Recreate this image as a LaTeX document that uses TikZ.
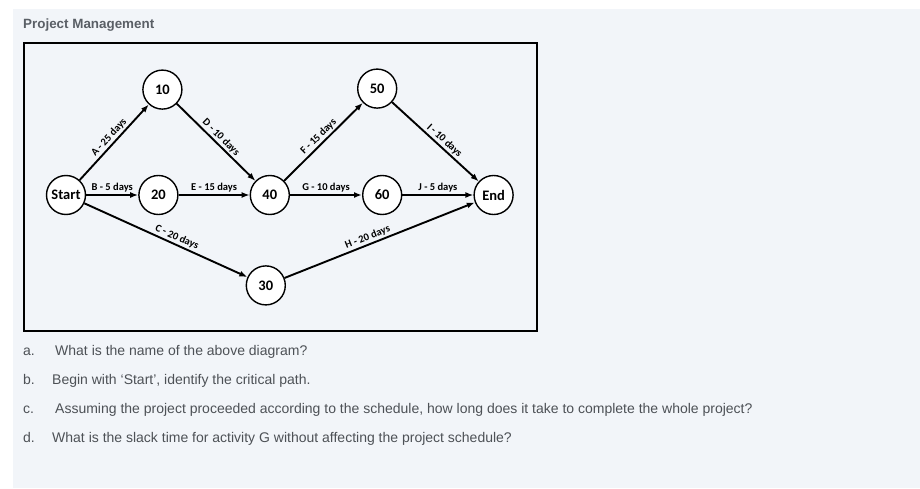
\documentclass[tikz,border=0pt]{standalone}
\usepackage{fontspec}
\setmainfont{Liberation Sans}
\newfontfamily\calib{Carlito}
\usetikzlibrary{arrows.meta, positioning}
\definecolor{panel}{HTML}{F2F5F9}
\definecolor{inkgray}{HTML}{4D5156}
\definecolor{titlegray}{HTML}{5A5F66}

\begin{document}
\begin{tikzpicture}[
      x=1pt, y=-1pt,
      evt/.style={circle, draw, line width=1.4pt, fill=white,
                  minimum size=39pt, inner sep=0pt,
                  font=\calib\bfseries\fontsize{14.5}{14.5}\selectfont},
      act/.style={-{Latex[length=8pt,width=6pt]}, line width=1.9pt},
      lbl/.style={font=\calib\bfseries\fontsize{10.5}{10.5}\selectfont, inner sep=1.5pt},
      qtxt/.style={anchor=base west, inner sep=0pt, text=inkgray,
                   font=\fontsize{14}{14}\selectfont}
    ]
    \useasboundingbox (0,0) rectangle (920,489);
    \fill[white] (0,0) rectangle (920,489);
    \fill[panel] (13,9) rectangle (920,488);

    % Title
    \node[anchor=base west, inner sep=0pt, text=titlegray,
          font=\bfseries\fontsize{13.4}{14}\selectfont] (title) at (23,29) {Project Management};

    % Frame
    \draw[line width=2pt] (24,43) rectangle (537,331);

    % Events, middle row
    \node[evt] (start) at (66,195) {Start};
    \node[evt, right=52pt of start] (n20) {20};
    \node[evt, right=71pt of n20] (n40) {40};
    \node[evt, right=72pt of n40] (n60) {60};
    \node[evt, right=71pt of n60] (end) {End};

    % Events, upper and lower
    \node[evt, above=65pt of n20, xshift=4pt] (n10) {10};
    \node[evt, below=50pt of n40, xshift=-4pt] (n30) {30};
    \node[evt, above=66pt of n60, xshift=-5pt] (n50) {50};

    % Activities
    \draw[act] (start) -- node[lbl, sloped, above] {A - 25 days} (n10);
    \draw[act] (start) -- node[lbl, above] {B - 5 days} (n20);
    \draw[act] (start) -- node[lbl, sloped, above, pos=0.55] {C - 20 days} (n30);
    \draw[act] (n10) -- node[lbl, sloped, above] {D - 10 days} (n40);
    \draw[act] (n20) -- node[lbl, above] {E - 15 days} (n40);
    \draw[act] (n40) -- node[lbl, sloped, above] {F - 15 days} (n50);
    \draw[act] (n40) -- node[lbl, above] {G - 10 days} (n60);
    \draw[act] (n30) -- node[lbl, sloped, above, pos=0.45] {H - 20 days} (end);
    \draw[act] (n50) -- node[lbl, sloped, above, pos=0.55] {I - 10 days} (end);
    \draw[act] (n60) -- node[lbl, above] {J - 5 days} (end);

    % Questions
    \node[qtxt] (qa) at (23,355) {a.};
    \node[qtxt] (qatext) at (55,355) {What is the name of the above diagram?};
    \node[qtxt] (qb) at (23,384) {b.};
    \node[qtxt] (qbtext) at (52,384) {Begin with ‘Start’, identify the critical path.};
    \node[qtxt] (qc) at (23,413) {c.};
    \node[qtxt] (qctext) at (55,413) {Assuming the project proceeded according to the schedule, how long does it take to complete the whole project?};
    \node[qtxt] (qd) at (23,442) {d.};
    \node[qtxt] (qdtext) at (52,442) {What is the slack time for activity G without affecting the project schedule?};
  \end{tikzpicture}
\end{document}
